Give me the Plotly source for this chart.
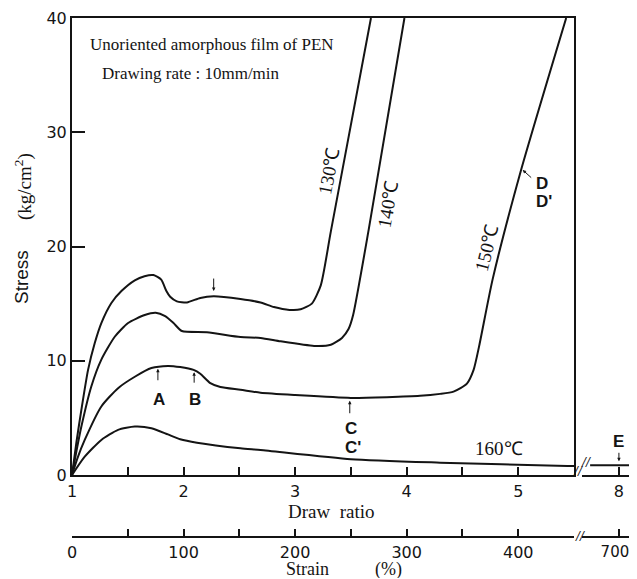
import plotly.graph_objects as go

# stress-strain curves of PEN film (draw ratio, stress kg/cm2)
dr_130 = [1.0, 1.04, 1.084, 1.144, 1.204, 1.263, 1.353, 1.443, 1.563, 1.65, 1.73, 1.80, 1.846, 1.88,
          1.94, 2.03, 2.15, 2.27, 2.51, 2.69, 2.81, 2.95, 3.05, 3.15, 3.23, 3.32, 3.68]
st_130 = [0.0, 2.9, 5.7, 9.2, 11.55, 13.3, 15.06, 16.1, 17.04, 17.4, 17.5, 17.1, 16.1, 15.6,
          15.2, 15.1, 15.5, 15.64, 15.4, 15.1, 14.7, 14.45, 14.5, 15.0, 16.6, 21.3, 40.0]

dr_140 = [1.0, 1.04, 1.084, 1.173, 1.263, 1.383, 1.503, 1.652, 1.75, 1.835, 1.91, 1.985, 2.21, 2.51,
          2.69, 2.87, 3.17, 3.32, 3.42, 3.48, 3.52, 3.66, 3.98]
st_140 = [0.0, 2.1, 4.24, 7.75, 10.1, 12.1, 13.3, 14.0, 14.2, 13.9, 13.3, 12.6, 12.5, 12.08,
          12.0, 11.7, 11.3, 11.4, 12.0, 12.8, 14.0, 21.5, 40.0]

dr_150 = [1.0, 1.05, 1.114, 1.263, 1.413, 1.563, 1.712, 1.86, 1.97, 2.09, 2.15, 2.24, 2.33, 2.51,
          2.69, 3.0, 3.5, 4.12, 4.30, 4.42, 4.54, 4.60, 4.65, 4.77, 5.02, 5.43]
st_150 = [0.0, 1.5, 3.07, 6.0, 7.6, 8.6, 9.36, 9.55, 9.45, 9.2, 8.86, 8.04, 7.7, 7.46,
          7.2, 7.0, 6.75, 6.93, 7.1, 7.3, 8.0, 9.2, 11.3, 17.1, 26.5, 40.0]

dr_160 = [1.0, 1.114, 1.263, 1.413, 1.563, 1.712, 1.86, 1.97, 2.12, 2.51, 2.69, 3.5, 4.30, 5.44, 5.5]
st_160 = [0.0, 1.6, 3.07, 3.95, 4.24, 4.1, 3.55, 3.13, 2.83, 2.34, 2.19, 1.38, 1.08, 0.79, 0.79]

# part beyond the axis break
dr_160_tail = [7.22, 8.0, 8.3]
st_160_tail = [0.86, 0.86, 0.86]

ratio_ticks = [1, 1.5, 2, 2.5, 3, 3.5, 4, 4.5, 5]
ratio_text = ["1", "", "2", "", "3", "", "4", "", "5"]
strain_ticks = [0, 50, 100, 150, 200, 250, 300, 350, 400, 450]
strain_text = ["0", "", "100", "", "200", "", "300", "", "400", ""]
stress_ticks = [0, 10, 20, 30, 40]

INK = "#141414"
SANS = "DejaVu Sans"
SERIF = "Liberation Serif"

fig = go.Figure()
for xs, ys in [(dr_130, st_130), (dr_140, st_140), (dr_150, st_150), (dr_160, st_160)]:
    fig.add_trace(go.Scatter(x=xs, y=ys, mode="lines", line=dict(color=INK, width=2, shape="spline", smoothing=0.6),
                             showlegend=False, hoverinfo="skip"))
fig.add_trace(go.Scatter(x=dr_160_tail, y=st_160_tail, xaxis="x2", yaxis="y", mode="lines",
                         line=dict(color=INK, width=2), showlegend=False, hoverinfo="skip"))
# dummy traces so the strain axes get drawn
fig.add_trace(go.Scatter(x=[0], y=[0], xaxis="x3", yaxis="y", mode="markers", marker=dict(opacity=0),
                         showlegend=False, hoverinfo="skip"))
fig.add_trace(go.Scatter(x=[700], y=[0], xaxis="x4", yaxis="y", mode="markers", marker=dict(opacity=0),
                         showlegend=False, hoverinfo="skip"))

# page has an 8px body margin and the visible width ends near 630px
PW = 558   # plot width
PH = 519   # plot height (down to the strain axis)
d1 = (574 - 72) / PW
d2 = (582 - 72) / PW
axis_common = dict(showgrid=False, zeroline=False, showline=True, linecolor=INK, linewidth=2,
                   ticks="inside", tickcolor=INK, tickwidth=1.5, automargin=False,
                   ticklabeloverflow="allow", tickfont=dict(family=SANS, size=16, color=INK))

fig.update_layout(
    width=622, height=570,
    margin=dict(l=64, r=0, t=10, b=41),
    plot_bgcolor="white", paper_bgcolor="white",
    xaxis=dict(axis_common, domain=[0, d1], range=[1, 5.5], tickvals=ratio_ticks, ticktext=ratio_text,
               ticklen=8, mirror=True, anchor="y", ticklabelstandoff=1),
    xaxis2=dict(axis_common, domain=[d2, 1], range=[7.0, 8.3], tickvals=[8], ticktext=["8"],
                ticklen=8, anchor="y", ticklabelstandoff=1),
    xaxis3=dict(axis_common, overlaying="x", anchor="free", position=0, range=[0, 450],
                tickvals=strain_ticks, ticktext=strain_text, ticklen=7, side="bottom", ticklabelstandoff=1),
    xaxis4=dict(axis_common, overlaying="x2", anchor="free", position=0, range=[600, 730],
                tickvals=[700], ticktext=["700"], ticklen=7, side="bottom", ticklabelstandoff=1,
                ticklabelshift=-4, tickfont=dict(family=SANS, size=15, color=INK)),
    yaxis=dict(axis_common, domain=[62 / PH, 1], range=[0, 40], tickvals=stress_ticks, ticklen=13,
               mirror=True, anchor="x"),
)


def px_x(px):
    return (px - 72) / PW


def px_y(py):
    return (537 - py) / PH


ann = []
ann.append(dict(x=1.144, y=37.7, xref="x", yref="y", text="Unoriented amorphous film of PEN", showarrow=False,
                xanchor="left", font=dict(family=SERIF, size=17, color=INK)))
ann.append(dict(x=1.25, y=35.1, xref="x", yref="y", text="Drawing rate : 10mm/min", showarrow=False,
                xanchor="left", font=dict(family=SERIF, size=17, color=INK)))

# temperature labels
for txt, x, y, ang in [("130℃", 3.30, 26.6, -79), ("140℃", 3.83, 23.7, -80), ("150℃", 4.72, 19.9, -76),
                       ("160℃", 4.83, 2.3, 0)]:
    ann.append(dict(x=x, y=y, xref="x", yref="y", text=txt, showarrow=False, textangle=ang,
                    font=dict(family=SERIF, size=19, color=INK)))

# point letters
for txt, x, y in [("A", 1.776, 6.6), ("B", 2.10, 6.6), ("C", 3.50, 4.1), ("C'", 3.52, 2.4),
                  ("D", 5.21, 25.5), ("D'", 5.23, 23.9)]:
    ann.append(dict(x=x, y=y, xref="x", yref="y", text="<b>%s</b>" % txt, showarrow=False,
                    font=dict(family="Liberation Sans", size=17, color=INK)))
ann.append(dict(x=8.0, y=2.9, xref="x2", yref="y", text="<b>E</b>", showarrow=False,
                font=dict(family="Liberation Sans", size=17, color=INK)))

# small arrows
for x, y, ax, ay, xr in [(1.77, 9.3, 0, 13, "x"), (2.095, 9.0, 0, 12, "x"), (3.49, 6.5, 0, 14, "x"),
                         (2.27, 16.1, 0, -14, "x"), (5.04, 26.7, 10, 9, "x"), (8.0, 1.2, 0, -10, "x2")]:
    ann.append(dict(x=x, y=y, xref=xr, yref="y", text="", showarrow=True, ax=ax, ay=ay,
                    arrowhead=2, arrowsize=0.7, arrowwidth=1, arrowcolor=INK))

# axis titles
titles = [("Stress", 21, 277, -90, "Liberation Sans", 19), ("(kg/cm<sup>2</sup>)", 24, 186, -90, SERIF, 19),
          ("Draw  ratio", 331, 511, 0, SERIF, 19), ("Strain", 307, 569, 0, SERIF, 18),
          ("(%)", 388, 569, 0, SERIF, 18)]
for txt, px, py, ang, fam, size in titles:
    ann.append(dict(x=px_x(px), y=px_y(py), xref="paper", yref="paper", text=txt, showarrow=False,
                    textangle=ang, xanchor="center", yanchor="middle", font=dict(family=fam, size=size, color=INK)))

# axis break marks
for px, py in [(578, 471), (586, 462), (580, 536)]:
    ann.append(dict(x=px_x(px), y=px_y(py), xref="paper", yref="paper", text="<b><i>//</i></b>",
                    xanchor="center", yanchor="middle", showarrow=False,
                    font=dict(family="Liberation Serif", size=14, color=INK)))

fig.update_layout(annotations=ann)
fig.write_html("out.html")
